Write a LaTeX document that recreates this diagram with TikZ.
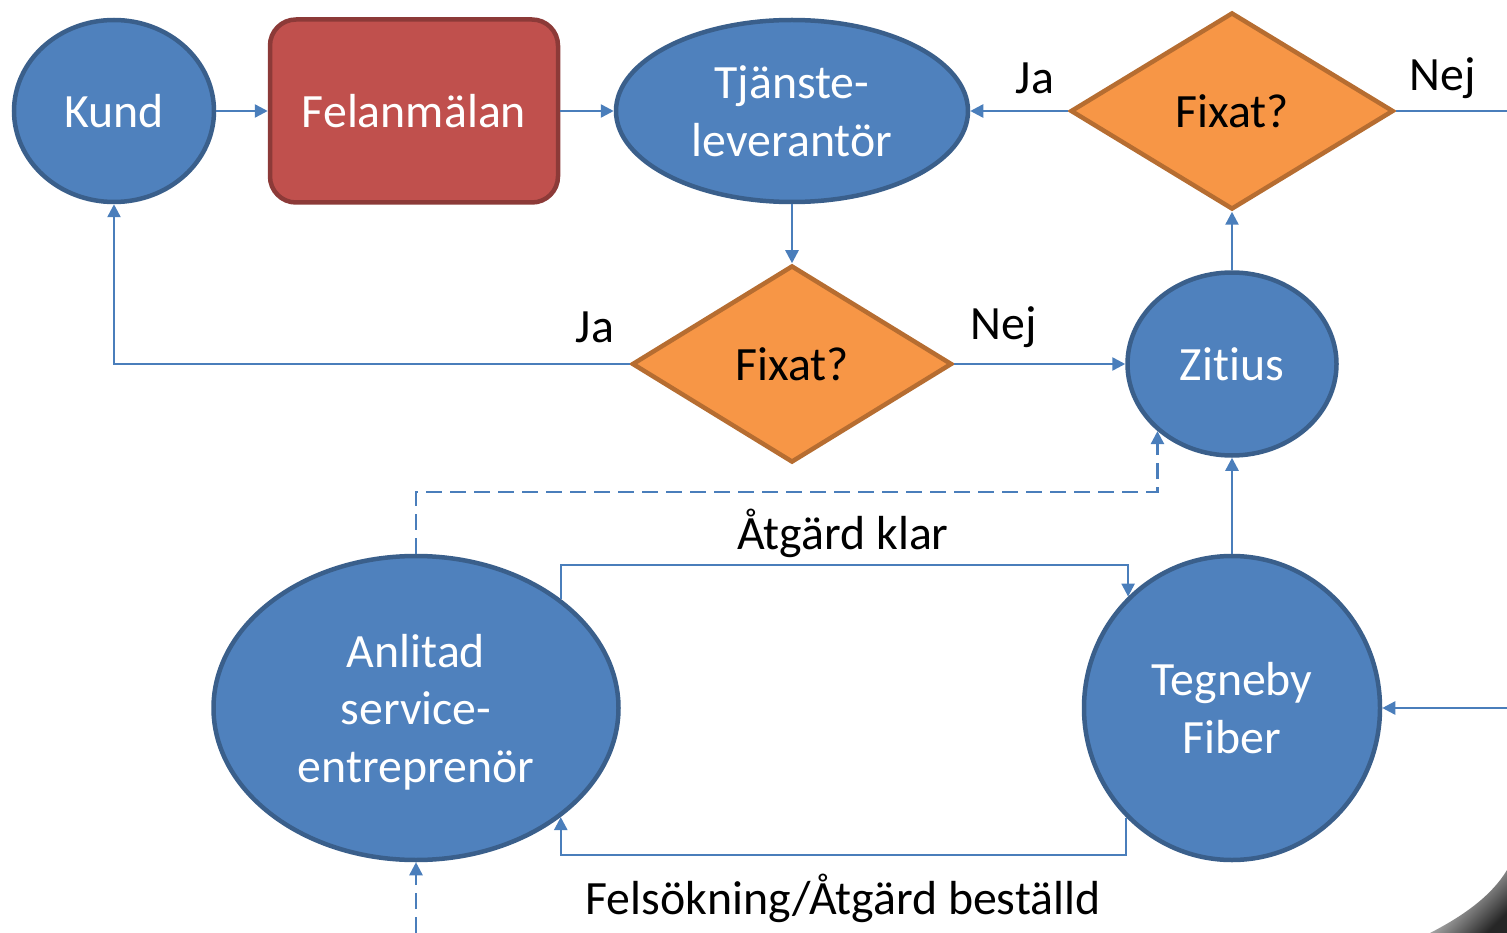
\documentclass[tikz,border=0pt]{standalone}
\usepackage{fontspec}
\setmainfont{Carlito}[Ligatures=NoCommon]
\usetikzlibrary{shapes.geometric,arrows.meta,positioning}
\definecolor{bfill}{HTML}{4F81BD}
\definecolor{bdraw}{HTML}{3A5F8B}
\definecolor{rfill}{HTML}{C0504D}
\definecolor{rdraw}{HTML}{8C3A38}
\definecolor{ofill}{HTML}{F79646}
\definecolor{odraw}{HTML}{B66D31}
\definecolor{conn}{HTML}{4A7EBB}
\tikzset{
  txt/.style={font=\fontsize{47.8}{57.5}\selectfont},
  blue/.style={ellipse, fill=bfill, draw=bdraw, line width=4.5pt, inner sep=0pt, text=white, txt, align=center},
  redbox/.style={rectangle, rounded corners=26pt, fill=rfill, draw=rdraw, line width=4.5pt, inner sep=0pt, text=white, txt, minimum width=288pt, minimum height=183pt},
  dia/.style={diamond, fill=ofill, draw=odraw, line width=4.5pt, inner sep=0pt, txt, aspect=1.64},
  lab/.style={txt, text=black},
  arr/.style={draw=conn, line width=2.5pt, -{Triangle[length=13pt,width=13pt]}},
  dasharr/.style={arr, dash pattern=on 16pt off 8pt},
}
\begin{document}
\begin{tikzpicture}[x=1pt,y=-1pt]
\useasboundingbox (0,0) rectangle (1507,933);
\node[blue, minimum width=200pt, minimum height=182pt] (kund) at (114,111) {Kund};
\node[redbox] (fel) at (414,111) {Felanmälan};
\node[blue, minimum width=352pt, minimum height=182pt] (tjl) at (792,111) {Tjänste-\\leverantör};
\node[dia, minimum width=323pt, minimum height=197pt] (fix1) at (1232,111) {Fixat?};
\node[dia, minimum width=320pt, minimum height=197pt] (fix2) at (792,364) {Fixat?};
\node[blue, minimum width=209pt, minimum height=183pt] (zit) at (1232,364) {Zitius};
\node[blue, minimum width=405pt, minimum height=304pt, text depth=0pt] (anl) at (416,708) {Anlitad\\service-\\entreprenör};
\node[blue, minimum width=296pt, minimum height=304pt] (teg) at (1232,708) {Tegneby\\Fiber};

\coordinate (eR1) at (1507,111);
\coordinate (eR2) at (1507,708);
\coordinate (eB) at (416,933);

\draw[arr] (kund.east) -- (fel.west);
\draw[arr] (fel.east) -- (tjl.west);
\draw[arr] (tjl.south) -- (fix2.north);
\draw[arr] (fix2.west) -| (kund.south);
\draw[arr] (fix2.east) -- (zit.west);
\draw[arr] (zit.north) -- (fix1.south);
\draw[arr] (fix1.west) -- (tjl.east);
\draw[draw=conn, line width=2.5pt] (fix1.east) -- (eR1);
\draw[arr] (eR2) -- (teg.east);
\draw[arr] (teg.north) -- (zit.south);
\draw[arr] (anl.37) -- (anl.37 |- 0,565) -| (teg.133.4);
\draw[arr] (teg.226.6) -- (teg.226.6 |- 0,855) -| (anl.323);
\draw[dasharr] (anl.north) -- (anl.north |- 0,492) -| (zit.222);
\draw[dasharr] (eB) -- (anl.south);

\node[lab] (ja1) at (1035,78) {Ja};
\node[lab] (nej1) at (1443,78) {Nej};
\node[lab] (ja2) at (595,327) {Ja};
\node[lab] (nej2) at (1004,327) {Nej};
\node[lab] (klar) at (843,533) {Åtgärd klar};
\node[lab] (best) at (843,898) {Felsökning/Åtgärd beställd};

\shade[left color=white, right color=black!85, shading angle=45]
  (1430,933) .. controls (1465,915) and (1492,895) .. (1507,870) -- (1507,933) -- cycle;
\end{tikzpicture}
\end{document}
